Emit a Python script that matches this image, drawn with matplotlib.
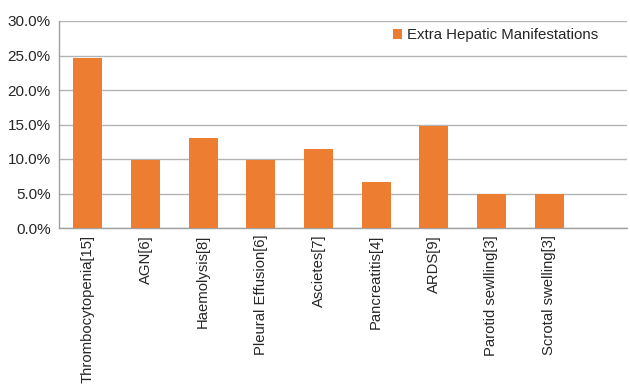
import matplotlib
matplotlib.use("Agg")
import matplotlib.pyplot as plt
from matplotlib.ticker import FuncFormatter

categories = [
    "Thrombocytopenia[15]", "AGN[6]", "Haemolysis[8]", "Pleural Effusion[6]",
    "Ascietes[7]", "Pancreatitis[4]", "ARDS[9]", "Parotid sewlling[3]",
    "Scrotal swelling[3]",
]
percent = [24.6, 9.8, 13.1, 9.8, 11.5, 6.6, 14.8, 4.9, 4.9]
series_name = "Extra Hepatic Manifestations"
yticks = [0, 5, 10, 15, 20, 25, 30]

plt.rcParams['font.family'] = ['Liberation Sans', 'DejaVu Sans']

fig = plt.figure(figsize=(6.3, 3.85), dpi=100)
ax = fig.add_axes([59 / 630, 1 - 228 / 385, (627 - 59) / 630, (228 - 21) / 385])

x = list(range(len(categories)))
ax.bar(x, percent, width=0.5, color="#ED7D31", label=series_name, zorder=3)

ax.set_xlim(-0.5, 9.35)
ax.set_ylim(0, 30)
ax.set_yticks(yticks)
ax.yaxis.set_major_formatter(FuncFormatter(lambda v, p: f"{v:.1f}%"))
ax.set_xticks(x)
ax.set_xticklabels(categories, rotation=90, fontsize=10.7, color="#262626")
ax.tick_params(axis='y', labelsize=11, labelcolor="#262626", length=0, pad=6)
ax.tick_params(axis='x', length=0, pad=5)

ax.grid(axis='y', color="#b4b4b4", linewidth=1.0, zorder=0)
for s in ["top", "right"]:
    ax.spines[s].set_visible(False)
for s in ["left", "bottom"]:
    ax.spines[s].set_color("#a0a0a0")
    ax.spines[s].set_linewidth(1.0)

ax.legend(loc="upper left", bbox_to_anchor=(0.565, 1.03), frameon=False,
          fontsize=10.8, handlelength=0.6, handleheight=0.6, handletextpad=0.3,
          labelcolor="#262626")

fig.savefig("out.png", dpi=100)
